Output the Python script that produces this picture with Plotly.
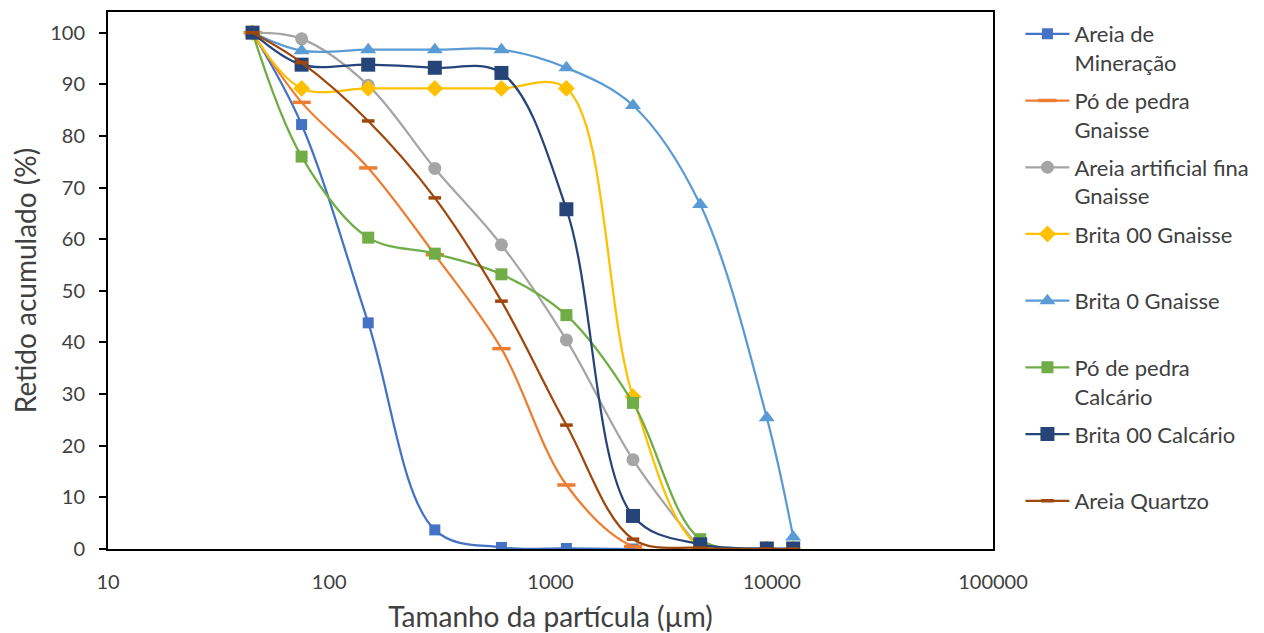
import plotly.graph_objects as go

sizes = [45, 75, 150, 300, 600, 1180, 2360, 4750, 9500, 12500]

areia_mineracao = [100, 82.2, 43.8, 3.7, 0.3, 0.1, 0.0]
po_pedra_gnaisse = [100, 86.5, 73.8, 57.0, 38.8, 12.4, 0.5, 0.0]
areia_art_gnaisse = [100, 98.8, 89.8, 73.7, 58.9, 40.5, 17.3, 0.0]
brita00_gnaisse = [100, 89.2, 89.2, 89.2, 89.2, 89.2, 29.5, 0.3, 0.0, 0.0]
brita0_gnaisse = [100, 96.5, 96.7, 96.7, 96.7, 93.2, 85.9, 66.7, 25.4, 2.3]
po_pedra_calcario = [100, 76.0, 60.3, 57.2, 53.2, 45.3, 28.3, 1.9, 0.0]
brita00_calcario = [100, 93.8, 93.8, 93.2, 92.2, 65.8, 6.4, 0.9, 0.1, 0.1]
areia_quartzo = [100, 94.2, 82.9, 68.0, 48.0, 24.0, 1.9, 0.2, 0.0, 0.0]

series = [
    ("Areia de<br>Mineração", areia_mineracao, "#4472C4", "square", 11),
    ("Pó de pedra<br>Gnaisse", po_pedra_gnaisse, "#ED7D31", "line-ew", 13),
    ("Areia artificial fina<br>Gnaisse", areia_art_gnaisse, "#A5A5A5", "circle", 13),
    ("Brita 00 Gnaisse<br> ", brita00_gnaisse, "#FFC000", "diamond", 13),
    ("Brita 0 Gnaisse<br> ", brita0_gnaisse, "#5B9BD5", "triangle-up", 14),
    ("Pó de pedra<br>Calcário", po_pedra_calcario, "#70AD47", "square", 12),
    ("Brita 00 Calcário<br> ", brita00_calcario, "#264478", "square", 14),
    ("Areia Quartzo", areia_quartzo, "#9E480E", "line-ew", 9),
]

fig = go.Figure()
for i, (name, vals, color, sym, sz) in enumerate(series):
    if sym == "line-ew":
        marker = dict(symbol=sym, size=sz, line=dict(color=color, width=3.5), color=color)
    else:
        marker = dict(symbol=sym, size=sz, color=color, line=dict(width=0))
    fig.add_trace(go.Scatter(
        x=sizes[:len(vals)], y=vals, name=name, mode="lines+markers",
        line=dict(color=color, width=2.25, shape="spline", smoothing=1.0),
        marker=marker, legendgroup=f"g{i}",
    ))

font_family = "Lato, 'Open Sans', sans-serif"
fig.update_layout(
    width=1256, height=625,
    margin=dict(l=100, r=271, t=4, b=84, autoexpand=False),
    paper_bgcolor="white", plot_bgcolor="white",
    font=dict(family=font_family, size=21, color="#404040"),
    showlegend=True,
    legend=dict(x=1.031, xanchor="left", y=0.998, yanchor="top",
                valign="top", tracegroupgap=6.5,
                font=dict(size=22, color="#404040"),
                itemwidth=44, maxheight=620),
)
fig.update_xaxes(
    type="log", range=[1, 5],
    tickvals=[10, 100, 1000, 10000, 100000],
    ticktext=["10", "100", "1000", "10000", "100000"],
    showgrid=False, zeroline=False, automargin=False,
    showline=True, linecolor="black", linewidth=2, mirror=True,
    ticks="", ticklabelstandoff=14,
    tickfont=dict(size=20),
    title=dict(text="Tamanho da partícula (µm)", font=dict(size=28, color="#404040"), standoff=18),
)
fig.update_yaxes(
    range=[0, 104], tickvals=list(range(0, 101, 10)),
    showgrid=False, zeroline=False, automargin=False,
    showline=True, linecolor="black", linewidth=2, mirror=True,
    ticks="outside", ticklen=7, tickwidth=2, tickcolor="black",
    ticklabelstandoff=10,
    tickfont=dict(size=20),
    title=dict(text="Retido acumulado (%)", font=dict(size=28, color="#404040"), standoff=12),
)

fig.write_html("out.html")
